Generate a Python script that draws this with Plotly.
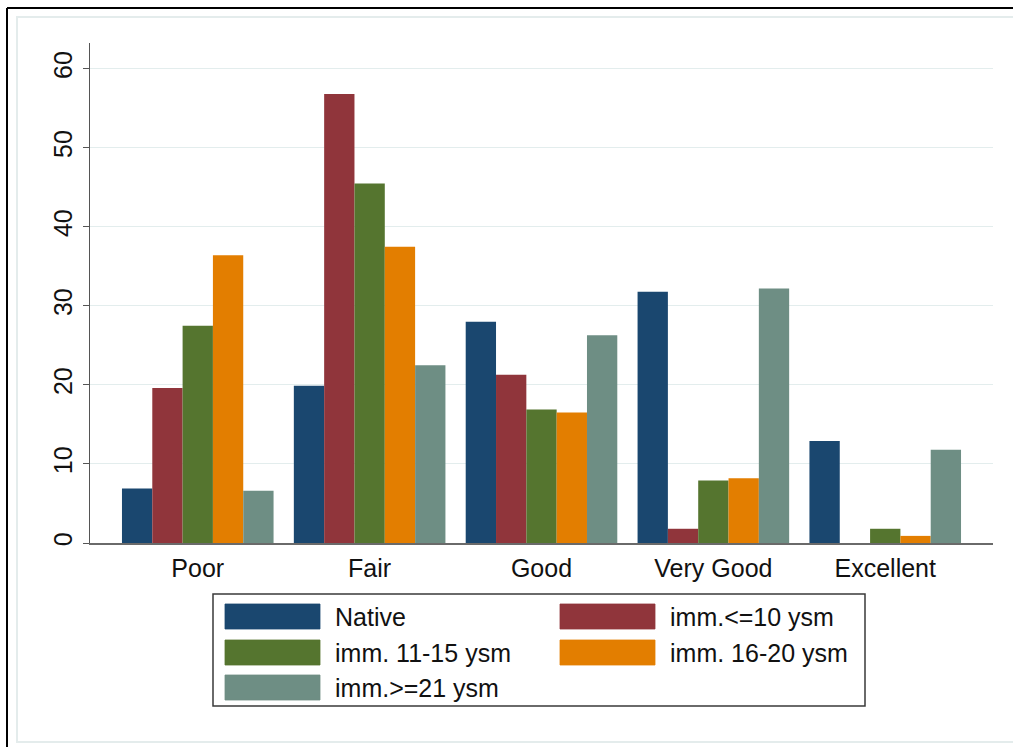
import plotly.graph_objects as go

# ---- data ----
categories = ["Poor", "Fair", "Good", "Very Good", "Excellent"]
series_names = ["Native", "imm.<=10 ysm", "imm. 11-15 ysm", "imm. 16-20 ysm", "imm.>=21 ysm"]
native = [6.9, 19.9, 28.0, 31.8, 12.9]
imm_le10 = [19.6, 56.8, 21.3, 1.8, 0.0]
imm_11_15 = [27.5, 45.5, 16.9, 7.9, 1.8]
imm_16_20 = [36.4, 37.5, 16.5, 8.2, 0.9]
imm_ge21 = [6.6, 22.5, 26.3, 32.2, 11.8]
y_ticks = [0, 10, 20, 30, 40, 50, 60]

series_values = [native, imm_le10, imm_11_15, imm_16_20, imm_ge21]
colors = ["#1a476f", "#90353b", "#55752f", "#e37e00", "#6e8e84"]

W, H = 1013, 747
L, R, T, B = 90, 20, 43, 204
PW, PH = W - L - R, H - T - B
FONT = "Liberation Sans, Arial, sans-serif"
FS = 25


def px(x):
    return (x - L) / PW


def py(y):
    return (H - B - y) / PH


fig = go.Figure()
for name, vals, col in zip(series_names, series_values, colors):
    fig.add_trace(go.Bar(
        x=categories, y=vals, name=name,
        marker=dict(color=col, line=dict(width=0)),
        showlegend=False,
    ))

shapes = []
annotations = []

# outer document frame (black) and inner graph-region frame
shapes.append(dict(type="line", xref="paper", yref="paper",
                   x0=px(7), x1=px(W + 5), y0=py(8), y1=py(8),
                   line=dict(color="black", width=2)))
shapes.append(dict(type="line", xref="paper", yref="paper",
                   x0=px(7), x1=px(7), y0=py(8), y1=py(H + 5),
                   line=dict(color="black", width=2)))
shapes.append(dict(type="rect", xref="paper", yref="paper",
                   x0=px(17), x1=px(W + 10), y0=py(17), y1=py(742),
                   line=dict(color="#e4ecec", width=2)))

# legend box
shapes.append(dict(type="rect", xref="paper", yref="paper",
                   x0=px(213), x1=px(865), y0=py(594), y1=py(706),
                   line=dict(color="#3a3a3a", width=1.5), fillcolor="white"))

col_x = [225, 560]
row_y = [604, 640, 675]
sw_w, sw_h = 95, 25
for i, (name, col) in enumerate(zip(series_names, colors)):
    r, c = divmod(i, 2)
    x0 = col_x[c]
    y0 = row_y[r]
    shapes.append(dict(type="rect", xref="paper", yref="paper",
                       x0=px(x0), x1=px(x0 + sw_w), y0=py(y0), y1=py(y0 + sw_h),
                       line=dict(color=col, width=0.8), fillcolor=col))
    annotations.append(dict(xref="paper", yref="paper", x=px(x0 + sw_w + 13),
                            y=py(y0 + sw_h / 2), xanchor="left", yanchor="middle",
                            text=name, showarrow=False,
                            font=dict(family=FONT, size=FS, color="#111111")))

fig.update_layout(
    width=W, height=H,
    margin=dict(l=L, r=R, t=T, b=B, pad=0),
    paper_bgcolor="white", plot_bgcolor="white",
    barmode="group", bargap=0.118, bargroupgap=0,
    font=dict(family=FONT, size=FS, color="#111111"),
    shapes=shapes, annotations=annotations,
    showlegend=False,
)
fig.update_xaxes(
    range=[-0.627, 4.627], showline=True, linecolor="#6a6a6a", linewidth=1.5,
    ticks="outside", ticklen=2, tickcolor="rgba(0,0,0,0)", showgrid=False,
    tickfont=dict(family=FONT, size=FS, color="#111111"), zeroline=False,
)
fig.update_yaxes(
    range=[0, PH / 7.903], tickvals=y_ticks, tickangle=-90,
    showline=True, linecolor="#555555", linewidth=1.3,
    ticks="outside", ticklen=6, tickcolor="#555555", tickwidth=1.3,
    ticklabelstandoff=1,
    showgrid=True, gridcolor="#e3eded", gridwidth=1.2, zeroline=False,
    tickfont=dict(family=FONT, size=FS, color="#111111"),
)

fig.write_html(
    "out.html",
    config={"displayModeBar": False},
    post_script="document.body.style.margin='0';document.body.style.overflow='hidden';",
)
